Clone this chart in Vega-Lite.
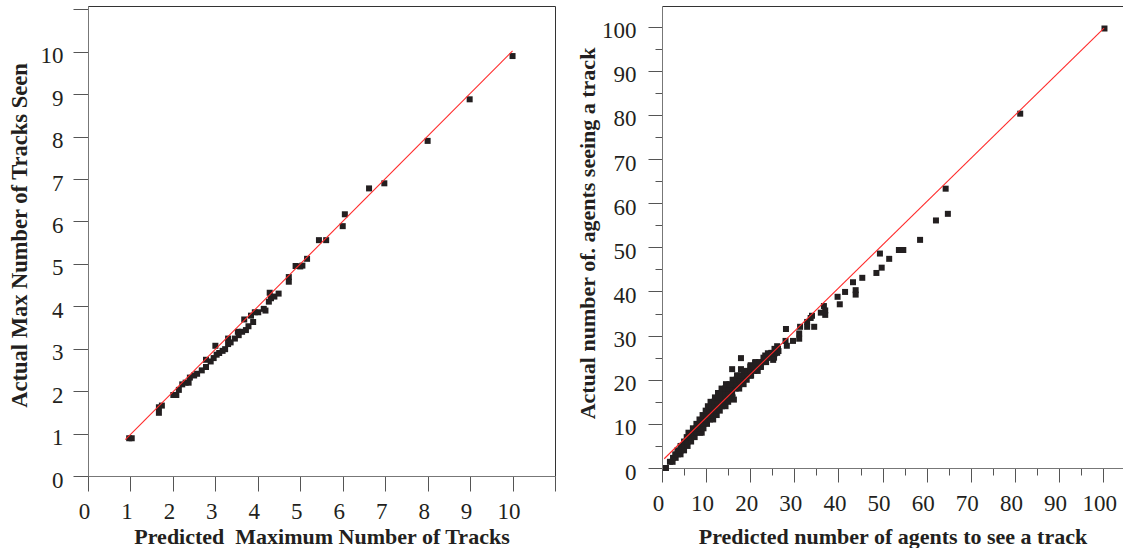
{
  "$schema": "https://vega.github.io/schema/vega-lite/v6.json",
  "background": "white",
  "padding": {"left": 7, "top": 5, "right": 0, "bottom": 0},
  "spacing": 20,
  "config": {
    "view": {"stroke": null},
    "axis": {
      "labelFont": "Liberation Serif", "labelFontSize": 23, "labelColor": "#231f20",
      "titleFont": "Liberation Serif", "titleFontSize": 22, "titleFontWeight": "bold", "titleColor": "#231f20",
      "domainColor": "#777777", "tickColor": "#555555", "grid": false,
      "labelFlush": false, "labelOverlap": false
    }
  },
  "datasets": {
    "leftPts": [
      {"x":0.97,"y":0.89},{"x":1.03,"y":0.89},{"x":1.67,"y":1.62},{"x":1.67,"y":1.49},{"x":1.74,"y":1.66},
      {"x":2.01,"y":1.91},{"x":2.08,"y":1.91},{"x":2.14,"y":2.03},{"x":2.22,"y":2.16},{"x":2.3,"y":2.2},
      {"x":2.37,"y":2.2},{"x":2.4,"y":2.32},{"x":2.5,"y":2.37},{"x":2.57,"y":2.41},{"x":2.68,"y":2.49},
      {"x":2.78,"y":2.57},{"x":2.78,"y":2.74},{"x":2.89,"y":2.7},{"x":2.96,"y":2.78},{"x":3.0,"y":3.07},
      {"x":3.03,"y":2.86},{"x":3.09,"y":2.9},{"x":3.17,"y":2.95},{"x":3.23,"y":2.99},{"x":3.3,"y":3.24},
      {"x":3.3,"y":3.11},{"x":3.36,"y":3.15},{"x":3.46,"y":3.24},{"x":3.53,"y":3.4},{"x":3.55,"y":3.32},
      {"x":3.63,"y":3.4},{"x":3.68,"y":3.69},{"x":3.72,"y":3.44},{"x":3.78,"y":3.53},{"x":3.84,"y":3.78},
      {"x":3.89,"y":3.63},{"x":3.93,"y":3.86},{"x":4.01,"y":3.86},{"x":4.14,"y":3.94},{"x":4.18,"y":3.9},
      {"x":4.26,"y":4.11},{"x":4.28,"y":4.32},{"x":4.31,"y":4.19},{"x":4.39,"y":4.23},{"x":4.49,"y":4.3},
      {"x":4.73,"y":4.69},{"x":4.73,"y":4.58},{"x":4.89,"y":4.95},{"x":5.0,"y":4.94},{"x":5.05,"y":4.96},
      {"x":5.16,"y":5.12},{"x":5.44,"y":5.56},{"x":5.61,"y":5.56},{"x":6.0,"y":5.89},{"x":6.05,"y":6.17},
      {"x":6.62,"y":6.78},{"x":6.98,"y":6.9},{"x":8.0,"y":7.9},{"x":8.99,"y":8.88},{"x":10.0,"y":9.9}
    ],
    "leftLine": [{"x":0.88,"y":0.86},{"x":10.0,"y":10.02}],
    "rightPts": [
      {"x":100.3,"y":99.6},{"x":81.2,"y":80.3},{"x":64.3,"y":63.3},{"x":64.8,"y":57.6},{"x":62.1,"y":56.1},
      {"x":58.5,"y":51.7},{"x":53.7,"y":49.4},{"x":54.7,"y":49.4},{"x":49.4,"y":48.6},{"x":51.5,"y":47.4},
      {"x":49.8,"y":45.4},{"x":48.6,"y":44.2},{"x":45.4,"y":43.1},{"x":43.3,"y":42.1},{"x":43.9,"y":40.3},
      {"x":43.9,"y":39.3},{"x":41.5,"y":39.9},{"x":39.8,"y":38.8},{"x":40.3,"y":37.1},{"x":36.7,"y":36.7},
      {"x":37.0,"y":35.7},{"x":37.0,"y":34.7},{"x":36.0,"y":35.2},{"x":34.0,"y":34.5},{"x":33.7,"y":34.0},
      {"x":34.5,"y":32.0},{"x":32.9,"y":33.1},{"x":32.9,"y":32.0},{"x":31.3,"y":32.0},{"x":31.1,"y":30.5},
      {"x":31.1,"y":29.3},{"x":29.7,"y":28.8},{"x":28.1,"y":31.5},{"x":28.0,"y":28.8},{"x":28.3,"y":27.7},
      {"x":26.1,"y":27.6},{"x":26.1,"y":26.1},{"x":26.4,"y":26.5},{"x":24.8,"y":26.1},{"x":25.2,"y":24.5},
      {"x":23.4,"y":25.5},{"x":23.4,"y":24.1},{"x":22.4,"y":22.9},{"x":21.1,"y":23.9},{"x":21.1,"y":22.5},
      {"x":20.1,"y":23.3},{"x":20.1,"y":22.1},{"x":20.1,"y":20.9},{"x":17.9,"y":24.9},{"x":17.9,"y":22.4},
      {"x":15.9,"y":22.4},{"x":16.3,"y":15.5},{"x":9.0,"y":8.0},{"x":0.9,"y":0.0},
      {"x":1.8,"y":1.4},{"x":2.4,"y":1.4},{"x":2.5,"y":2.3},{"x":3.1,"y":2.3},{"x":3.0,"y":3.1},{"x":3.6,"y":3.1},
      {"x":4.2,"y":3.1},{"x":3.5,"y":4.0},{"x":4.3,"y":4.0},{"x":5.0,"y":4.0},{"x":4.2,"y":5.0},{"x":5.0,"y":5.0},
      {"x":5.8,"y":5.0},{"x":5.0,"y":6.0},{"x":5.8,"y":6.0},{"x":6.6,"y":6.0},{"x":5.6,"y":7.0},{"x":6.5,"y":7.0},
      {"x":7.4,"y":7.0},{"x":6.0,"y":8.0},{"x":7.0,"y":8.0},{"x":7.8,"y":8.0},{"x":8.6,"y":8.0},{"x":7.0,"y":9.0},
      {"x":7.8,"y":9.0},{"x":8.6,"y":9.0},{"x":9.4,"y":9.0},{"x":7.8,"y":10.0},{"x":8.6,"y":10.0},{"x":9.4,"y":10.0},
      {"x":10.2,"y":10.0},{"x":8.5,"y":11.0},{"x":9.3,"y":11.0},{"x":10.1,"y":11.0},{"x":10.9,"y":11.0},{"x":11.6,"y":11.0},
      {"x":9.2,"y":12.0},{"x":10.0,"y":12.0},{"x":10.8,"y":12.0},{"x":11.6,"y":12.0},{"x":12.4,"y":12.0},
      {"x":9.9,"y":13.0},{"x":10.7,"y":13.0},{"x":11.5,"y":13.0},{"x":12.3,"y":13.0},{"x":13.1,"y":13.0},
      {"x":10.4,"y":14.0},{"x":11.2,"y":14.0},{"x":12.0,"y":14.0},{"x":12.8,"y":14.0},{"x":13.6,"y":14.0},{"x":14.4,"y":14.0},
      {"x":11.0,"y":15.0},{"x":11.8,"y":15.0},{"x":12.6,"y":15.0},{"x":13.4,"y":15.0},{"x":14.2,"y":15.0},{"x":15.0,"y":15.0},
      {"x":12.0,"y":16.0},{"x":12.8,"y":16.0},{"x":13.6,"y":16.0},{"x":14.4,"y":16.0},{"x":15.2,"y":16.0},{"x":16.0,"y":16.0},
      {"x":12.7,"y":17.0},{"x":13.5,"y":17.0},{"x":14.3,"y":17.0},{"x":15.1,"y":17.0},{"x":15.9,"y":17.0},
      {"x":13.5,"y":18.0},{"x":14.3,"y":18.0},{"x":15.1,"y":18.0},{"x":15.9,"y":18.0},{"x":16.7,"y":18.0},{"x":17.5,"y":18.0},
      {"x":14.5,"y":19.0},{"x":15.3,"y":19.0},{"x":16.1,"y":19.0},{"x":16.9,"y":19.0},{"x":17.7,"y":19.0},{"x":18.5,"y":19.0},
      {"x":16.0,"y":20.0},{"x":16.8,"y":20.0},{"x":17.6,"y":20.0},{"x":18.4,"y":20.0},{"x":19.2,"y":20.0},
      {"x":17.0,"y":21.0},{"x":17.8,"y":21.0},{"x":18.6,"y":21.0},{"x":19.4,"y":21.0},{"x":20.2,"y":21.0},
      {"x":18.5,"y":22.0},{"x":19.3,"y":22.0},{"x":20.1,"y":22.0},{"x":20.9,"y":22.0},{"x":21.7,"y":22.0},
      {"x":20.0,"y":23.0},{"x":20.8,"y":23.0},{"x":21.6,"y":23.0},{"x":22.4,"y":23.0},
      {"x":21.2,"y":24.0},{"x":22.0,"y":24.0},{"x":22.8,"y":24.0},{"x":23.6,"y":24.0},
      {"x":23.0,"y":25.0},{"x":23.8,"y":25.0},{"x":24.6,"y":25.0},{"x":25.4,"y":25.0},
      {"x":24.0,"y":26.0},{"x":24.8,"y":26.0},{"x":25.6,"y":26.0},{"x":25.5,"y":27.0},{"x":26.3,"y":27.0}
    ],
    "rightLine": [{"x":0.5,"y":2.1},{"x":100.2,"y":99.7}]
  },
  "hconcat": [
    {
      "width": 467,
      "height": 470,
      "view": {"stroke": "#333333"},
      "encoding": {
        "x": {
          "field": "x", "type": "quantitative",
          "scale": {"domain": [0, 11], "nice": false, "zero": false},
          "axis": {
            "values": [0,1,2,3,4,5,6,7,8,9,10,11],
            "labelExpr": "datum.value <= 10 ? datum.label : ''",
            "labelFont": "Liberation Serif",
            "labelFontSize": {"condition": {"test": "datum.value > 10", "value": 0}, "value": 23},
            "tickSize": 15, "labelPadding": 9, "labelOffset": -4,
            "title": "Predicted\u00a0 Maximum Number of Tracks", "titlePadding": 3
          }
        },
        "y": {
          "field": "y", "type": "quantitative",
          "scale": {"domain": [0, 11.08], "nice": false, "zero": false},
          "axis": {
            "values": [0,1,2,3,4,5,6,7,8,9,10,11],
            "labelExpr": "datum.value <= 10 ? datum.label : ''",
            "labelFont": "Liberation Serif",
            "labelFontSize": {"condition": {"test": "datum.value > 10", "value": 0}, "value": 23},
            "tickSize": 15, "labelPadding": 10, "labelOffset": 4,
            "title": "Actual Max Number of Tracks Seen", "titlePadding": 9,
            "titleFontSize": 22.5, "titleY": 229
          }
        }
      },
      "layer": [
        {"data": {"name": "leftPts"}, "mark": {"type": "square", "size": 36, "color": "#231f20", "opacity": 1}},
        {"data": {"name": "leftLine"}, "mark": {"type": "line", "stroke": "#ff2a2a", "strokeWidth": 1.1}}
      ]
    },
    {
      "width": 461,
      "height": 462,
      "resolve": {"axis": {"x": "independent"}},
      "layer": [
        {
          "data": {"name": "rightPts"},
          "mark": {"type": "square", "size": 36, "color": "#231f20", "opacity": 1},
          "encoding": {
            "x": {
              "field": "x", "type": "quantitative",
              "scale": {"domain": [0, 104.5], "nice": false, "zero": false},
              "axis": {
                "values": [0,5,10,15,20,25,30,35,40,45,50,55,60,65,70,75,80,85,90,95,100],
                "labelExpr": "datum.value % 10 === 0 ? datum.label : ''",
                "labelFont": "Liberation Serif",
                "labelFontSize": {"condition": {"test": "datum.value % 10 !== 0", "value": 0}, "value": 23},
                "tickSize": {"condition": {"test": "datum.value % 10 === 0", "value": 14}, "value": 7},
                "labelPadding": 10, "labelOffset": -4,
                "title": "Predicted number of agents to see a track", "titlePadding": 11
              }
            },
            "y": {
              "field": "y", "type": "quantitative",
              "scale": {"domain": [0, 104.7], "nice": false, "zero": false},
              "axis": {
                "values": [0,5,10,15,20,25,30,35,40,45,50,55,60,65,70,75,80,85,90,95,100],
                "labelExpr": "datum.value % 10 === 0 ? datum.label : ''",
                "labelFont": "Liberation Serif",
                "labelFontSize": {"condition": {"test": "datum.value % 10 !== 0", "value": 0}, "value": 23},
                "tickSize": {"condition": {"test": "datum.value % 10 === 0", "value": 14}, "value": 7},
                "labelPadding": 12, "labelOffset": 4,
                "title": "Actual number of. agents seeing a track", "titlePadding": 2, "titleY": 227
              }
            }
          }
        },
        {
          "data": {"name": "rightLine"},
          "mark": {"type": "line", "stroke": "#ff2a2a", "strokeWidth": 1.1},
          "encoding": {
            "x": {
              "field": "x", "type": "quantitative",
              "scale": {"domain": [0, 104.5], "nice": false, "zero": false},
              "axis": {"orient": "top", "labels": false, "ticks": false, "title": null, "domainColor": "#333333"}
            },
            "y": {
              "field": "y", "type": "quantitative",
              "scale": {"domain": [0, 104.7], "nice": false, "zero": false},
              "axis": {
                "values": [0,5,10,15,20,25,30,35,40,45,50,55,60,65,70,75,80,85,90,95,100],
                "labelExpr": "datum.value % 10 === 0 ? datum.label : ''",
                "labelFont": "Liberation Serif",
                "labelFontSize": {"condition": {"test": "datum.value % 10 !== 0", "value": 0}, "value": 23},
                "tickSize": {"condition": {"test": "datum.value % 10 === 0", "value": 14}, "value": 7},
                "labelPadding": 12, "labelOffset": 4,
                "title": "Actual number of. agents seeing a track", "titlePadding": 2, "titleY": 227
              }
            }
          }
        }
      ]
    }
  ]
}
